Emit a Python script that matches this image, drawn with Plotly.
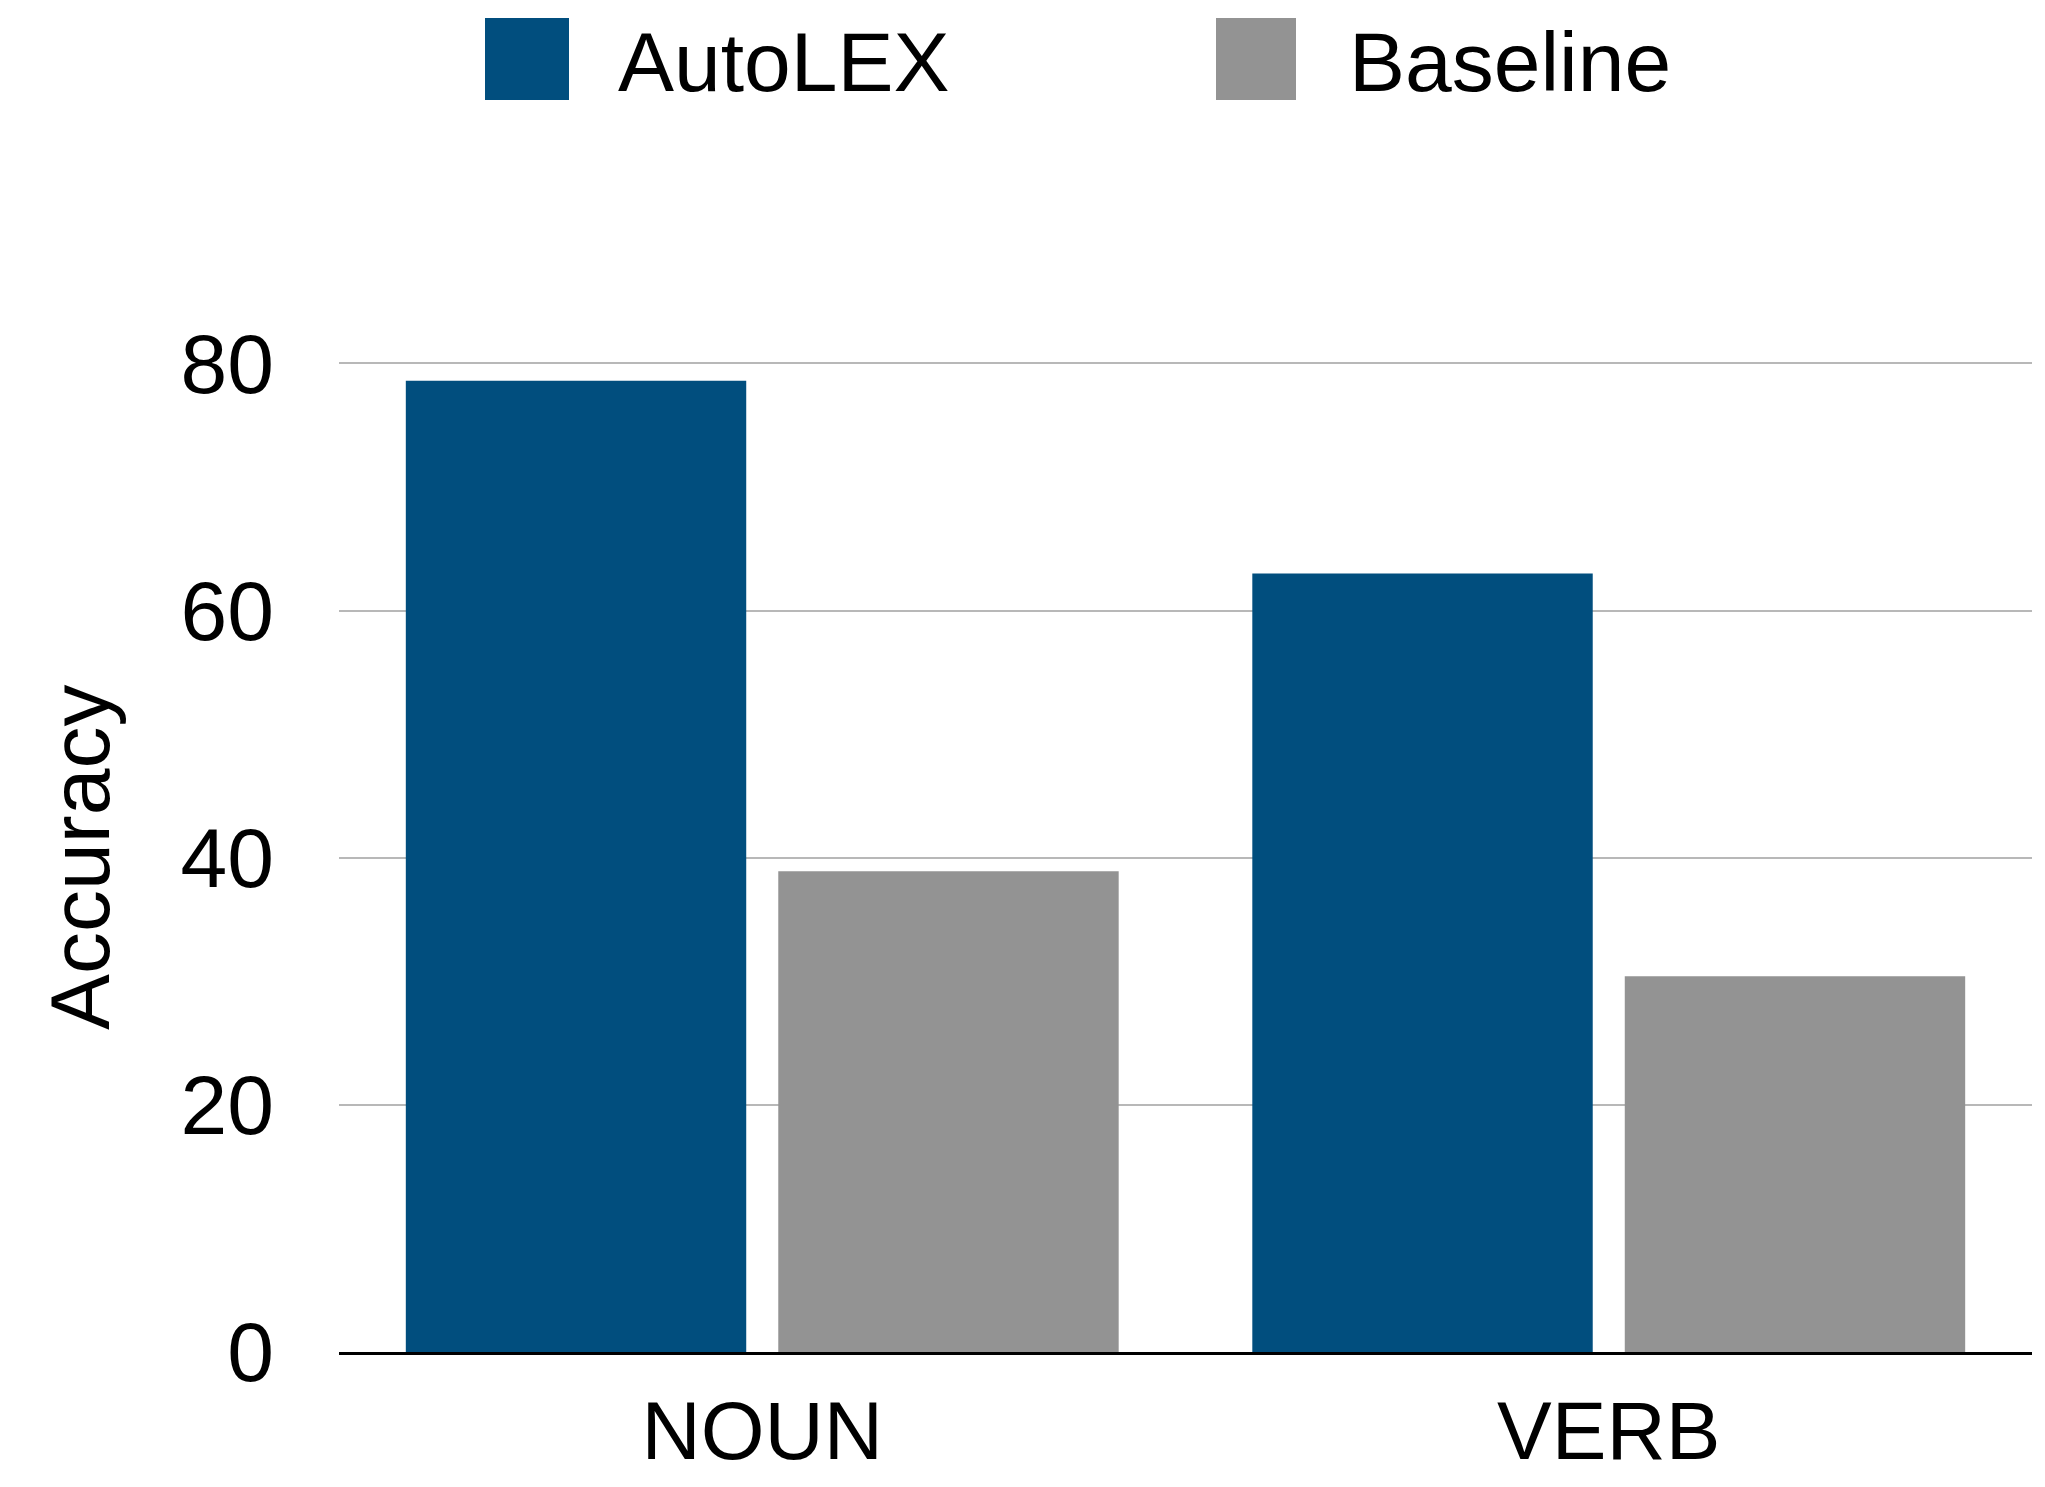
import plotly.graph_objects as go

categories = ["NOUN", "VERB"]
autolex = [78.6, 63.0]
baseline = [38.9, 30.4]
series_names = ["AutoLEX", "Baseline"]
y_ticks = [0, 20, 40, 60, 80]

C_AUTO = "#014e7e"
C_BASE = "#939393"
FONT = "Liberation Sans, Arial, Helvetica, sans-serif"

OFF = 8  # page body margin
W, H = 2029, 1471
L, R, T, B = 331, 5, 343, 127
pw = W - L - R
ph = H - T - B

fig = go.Figure()
fig.add_trace(go.Bar(x=categories, y=autolex, name=series_names[0],
                     marker=dict(color=C_AUTO, line=dict(width=0))))
fig.add_trace(go.Bar(x=categories, y=baseline, name=series_names[1],
                     marker=dict(color=C_BASE, line=dict(width=0))))

def px2x(px):
    return (px - OFF - L) / pw

def py2y(py):
    return (H - B - (py - OFF)) / ph

shapes = []
annotations = []
legend_items = [
    (series_names[0], C_AUTO, 485, 569, 616),
    (series_names[1], C_BASE, 1216, 1296, 1347),
]
for name, col, x0, x1, tx in legend_items:
    shapes.append(dict(type="rect", xref="paper", yref="paper",
                       x0=px2x(x0), x1=px2x(x1), y0=py2y(100), y1=py2y(18),
                       fillcolor=col, line=dict(width=0)))
    annotations.append(dict(text=name, xref="paper", yref="paper",
                            x=px2x(tx), y=py2y(62), xanchor="left", yanchor="middle",
                            showarrow=False, font=dict(size=84, color="black", family=FONT)))

annotations.append(dict(text="Accuracy", xref="paper", yref="paper",
                        x=px2x(80), y=py2y(858), xanchor="center", yanchor="middle",
                        textangle=-90, showarrow=False,
                        font=dict(size=84, color="black", family=FONT)))

fig.update_layout(
    width=W, height=H,
    margin=dict(l=L, r=R, t=T, b=B, autoexpand=False),
    paper_bgcolor="white", plot_bgcolor="white",
    barmode="group", bargap=0.12, bargroupgap=0.086,
    showlegend=False,
    font=dict(family=FONT, size=84, color="black"),
    shapes=shapes, annotations=annotations,
)
fig.update_yaxes(range=[0, 81], tickvals=y_ticks, ticktext=[str(v) for v in y_ticks],
                 showgrid=True, gridcolor="#b8b8b8", gridwidth=2,
                 zeroline=False, showline=False, ticks="",
                 ticklabelstandoff=64,
                 tickfont=dict(size=84, family=FONT, color="black"))
fig.update_xaxes(showgrid=False, showline=True, linecolor="black", linewidth=3,
                 ticks="", ticklabelstandoff=6,
                 tickfont=dict(size=82, family=FONT, color="black"))

fig.write_html("out.html")
